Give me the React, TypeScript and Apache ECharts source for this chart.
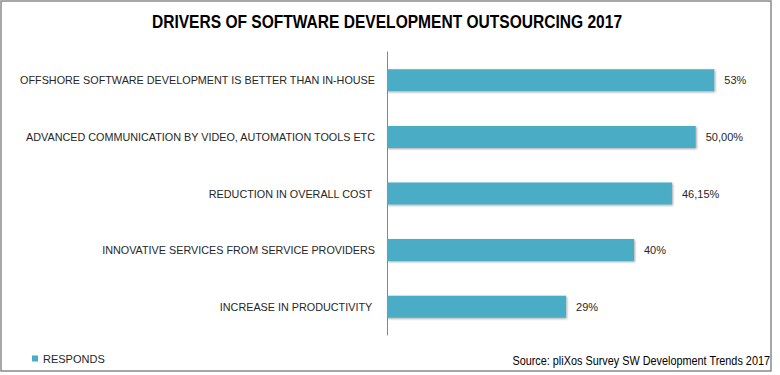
import React, { useEffect, useRef } from "react";
import * as echarts from "echarts";

const categories = [
  "OFFSHORE SOFTWARE DEVELOPMENT IS BETTER THAN IN-HOUSE",
  "ADVANCED COMMUNICATION BY VIDEO, AUTOMATION TOOLS ETC",
  "REDUCTION IN OVERALL COST ",
  "INNOVATIVE SERVICES FROM SERVICE PROVIDERS",
  "INCREASE IN PRODUCTIVITY ",
];
const values = [53, 50, 46.15, 40, 29];
const valueLabels = ["53%", "50,00%", "46,15%", "40%", "29%"];
const seriesName = "RESPONDS";
const titleText = "DRIVERS OF SOFTWARE DEVELOPMENT OUTSOURCING 2017";
const sourceText = "Source: pliXos Survey SW Development Trends 2017";

export default function App() {
  const ref = useRef<HTMLDivElement>(null);
  useEffect(() => {
    if (!ref.current) return;
    const chart = echarts.init(ref.current, null, { renderer: "svg" });
    chart.setOption({
      animation: false,
      backgroundColor: "#ffffff",
      legend: {
        data: [seriesName],
        left: 27,
        top: 348,
        icon: "rect",
        itemWidth: 6,
        itemHeight: 6,
        itemGap: 5,
        textStyle: {
          fontFamily: "'Liberation Sans', sans-serif",
          fontSize: 11,
          color: "#262626",
        },
      },
      grid: { left: 387, top: 52, bottom: 40, right: 22.5, containLabel: false },
      xAxis: {
        type: "value",
        min: 0,
        max: 60,
        show: false,
      },
      yAxis: {
        type: "category",
        data: categories,
        inverse: true,
        axisTick: { show: false },
        axisLine: { show: true, lineStyle: { color: "#868686", width: 1 } },
        axisLabel: {
          margin: 12,
          fontFamily: "'Liberation Sans', sans-serif",
          fontSize: 10.8,
          color: "#262626",
        },
      },
      series: [
        {
          name: seriesName,
          type: "bar",
          data: values,
          barWidth: 22,
          itemStyle: {
            color: "#4BACC6",
            shadowColor: "rgba(0,0,0,0.35)",
            shadowBlur: 2,
            shadowOffsetX: 1,
            shadowOffsetY: 1,
          },
          label: {
            show: true,
            position: "right",
            distance: 10,
            formatter: (p: any) => valueLabels[p.dataIndex],
            fontFamily: "'Liberation Sans', sans-serif",
            fontSize: 11,
            color: "#262626",
          },
        },
      ],
      graphic: [
        {
          type: "rect",
          shape: { x: 1, y: 1, width: 770, height: 370 },
          style: { fill: "none", stroke: "#8a8a8a", lineWidth: 1.5 },
          silent: true,
        },
        {
          type: "text",
          x: 387,
          y: 22,
          scaleX: 0.865,
          style: {
            text: titleText,
            align: "center",
            verticalAlign: "middle",
            fontFamily: "'Liberation Sans', sans-serif",
            fontWeight: "bold",
            fontSize: 18,
            fill: "#000000",
          },
        },
        {
          type: "text",
          x: 770,
          y: 361,
          scaleX: 0.905,
          style: {
            text: sourceText,
            align: "right",
            verticalAlign: "middle",
            fontFamily: "'Liberation Sans', sans-serif",
            fontSize: 12,
            fill: "#000000",
          },
        },
      ],
    });
    return () => chart.dispose();
  }, []);
  return (
    <div
      ref={ref}
      style={{ position: "absolute", left: 0, top: 0, width: 780, height: 375 }}
    />
  );
}
